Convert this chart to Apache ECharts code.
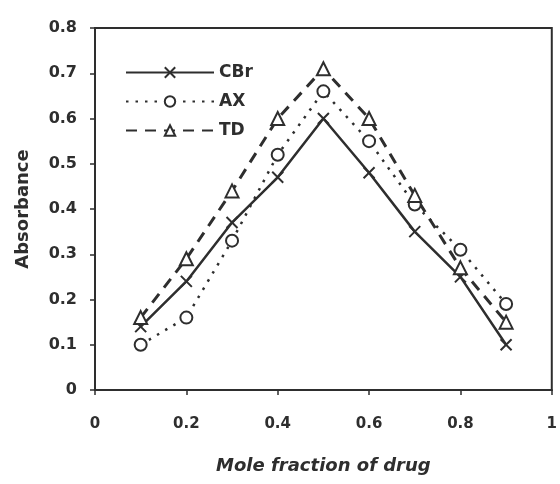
<!DOCTYPE html>
<html>
<head>
<meta charset="utf-8">
<script src="https://cdn.jsdelivr.net/npm/echarts@6/dist/echarts.min.js"></script>
<style>html,body{margin:0;padding:0;background:#fff;}#c{width:560px;height:484px;}</style>
</head>
<body>
<div id="c"></div>
<script>
var xValues = [0.1, 0.2, 0.3, 0.4, 0.5, 0.6, 0.7, 0.8, 0.9];
var cbr = [0.14, 0.24, 0.37, 0.47, 0.60, 0.48, 0.35, 0.25, 0.10];
var ax  = [0.10, 0.16, 0.33, 0.52, 0.66, 0.55, 0.41, 0.31, 0.19];
var td  = [0.16, 0.29, 0.44, 0.60, 0.71, 0.60, 0.43, 0.27, 0.15];
var seriesNames = ['CBr', 'AX', 'TD'];

function pairs(ys) { return xValues.map(function (x, i) { return [x, ys[i]]; }); }

var ink = '#2e2e2e';
var font = 'DejaVu Sans';
var crossPath = 'path://M0,0L10,10M10,0L0,10';

var chart = echarts.init(document.getElementById('c'));
chart.setOption({
  animation: false,
  backgroundColor: '#fff',
  grid: { left: 95, right: 4, top: 28, bottom: 94, show: true, borderColor: ink, borderWidth: 2 },
  legend: {
    orient: 'vertical', left: 120, top: 59, itemWidth: 88, itemHeight: 13, itemGap: 12,
    textStyle: { fontFamily: font, fontWeight: 'bold', fontSize: 17, color: ink },
    data: seriesNames
  },
  xAxis: {
    type: 'value', min: 0, max: 1, interval: 0.2,
    name: 'Mole fraction of drug', nameLocation: 'middle', nameGap: 67,
    nameTextStyle: { fontFamily: font, fontWeight: 'bold', fontStyle: 'italic', fontSize: 18, color: ink },
    axisLine: { show: true, lineStyle: { color: ink, width: 2 } },
    axisTick: { show: true, length: 5, lineStyle: { color: ink, width: 1.5 } },
    axisLabel: { margin: 27, fontFamily: font, fontWeight: 'bold', fontSize: 15, color: ink },
    splitLine: { show: false }
  },
  yAxis: {
    type: 'value', min: 0, max: 0.8, interval: 0.1,
    name: 'Absorbance', nameLocation: 'middle', nameGap: 63,
    nameTextStyle: { fontFamily: font, fontWeight: 'bold', fontSize: 18, color: ink },
    axisLine: { show: true, lineStyle: { color: ink, width: 2 } },
    axisTick: { show: true, length: 5, lineStyle: { color: ink, width: 1.5 } },
    axisLabel: { margin: 18, fontFamily: font, fontWeight: 'bold', fontSize: 16, color: ink },
    splitLine: { show: false }
  },
  series: [
    {
      name: seriesNames[0], type: 'line', data: pairs(cbr),
      symbol: crossPath, symbolSize: 11,
      lineStyle: { color: ink, width: 2.5, type: 'solid' },
      itemStyle: { color: 'none', borderColor: ink, borderWidth: 2 }
    },
    {
      name: seriesNames[1], type: 'line', data: pairs(ax),
      symbol: 'emptyCircle', symbolSize: 12,
      lineStyle: { color: ink, width: 2.5, type: [2.5, 7] },
      itemStyle: { color: ink, borderColor: ink, borderWidth: 2.5 }
    },
    {
      name: seriesNames[2], type: 'line', data: pairs(td),
      symbol: 'emptyTriangle', symbolSize: 13,
      lineStyle: { color: ink, width: 3, type: [11, 8] },
      itemStyle: { color: ink, borderColor: ink, borderWidth: 2.5 }
    }
  ]
});
</script>
</body>
</html>
